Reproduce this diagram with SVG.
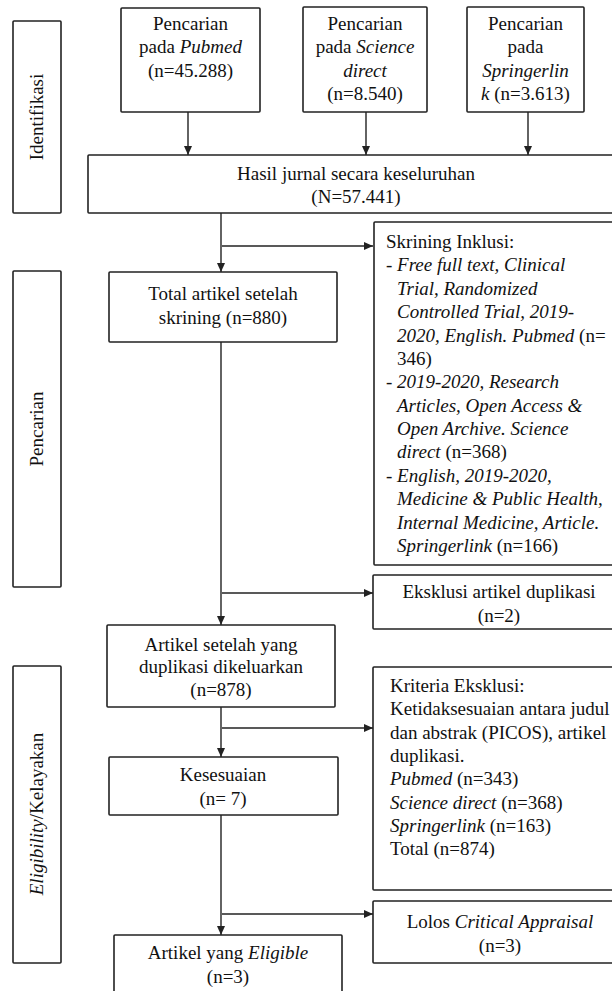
<svg xmlns="http://www.w3.org/2000/svg" width="612" height="991" viewBox="0 0 612 991">
<defs>
<style>
.box{fill:#fff;stroke:#222;stroke-width:1.6}
.t{font-family:"Liberation Serif","Times New Roman",serif;font-size:19px;fill:#111}
.c{text-anchor:middle}
.i{font-style:italic}
.ln{stroke:#222;stroke-width:1.4;fill:none}
</style>
<marker id="ah" markerWidth="9" markerHeight="8" refX="9" refY="4" orient="auto" markerUnits="userSpaceOnUse">
<path d="M0,0 L9,4 L0,8 Z" fill="#222"/>
</marker>
</defs>
<rect width="612" height="991" fill="#fff"/>

<g id="side-identifikasi">
<rect class="box" x="13" y="21" width="48" height="192" rx="1"/>
<text class="t c" x="43" y="117" transform="rotate(-90 43 117)">Identifikasi</text>
</g>
<g id="side-pencarian">
<rect class="box" x="13" y="271" width="48" height="316" rx="1"/>
<text class="t c" x="43" y="429" transform="rotate(-90 43 429)">Pencarian</text>
</g>
<g id="side-eligibility">
<rect class="box" x="13" y="666" width="48" height="297" rx="1"/>
<text class="t c" x="43" y="814" transform="rotate(-90 43 814)"><tspan class="i">Eligibility</tspan>/Kelayakan</text>
</g>

<g id="connectors">
<line class="ln" x1="188" y1="112" x2="188" y2="155" marker-end="url(#ah)"/>
<line class="ln" x1="366" y1="112" x2="366" y2="155" marker-end="url(#ah)"/>
<line class="ln" x1="528" y1="112" x2="528" y2="155" marker-end="url(#ah)"/>
<line class="ln" x1="221" y1="213" x2="221" y2="272" marker-end="url(#ah)"/>
<line class="ln" x1="222" y1="246" x2="373" y2="246" marker-end="url(#ah)"/>
<line class="ln" x1="221" y1="342" x2="221" y2="625" marker-end="url(#ah)"/>
<line class="ln" x1="222" y1="593" x2="373" y2="593" marker-end="url(#ah)"/>
<line class="ln" x1="221" y1="707" x2="221" y2="757" marker-end="url(#ah)"/>
<line class="ln" x1="222" y1="728" x2="373" y2="728" marker-end="url(#ah)"/>
<line class="ln" x1="221" y1="815" x2="221" y2="935" marker-end="url(#ah)"/>
<line class="ln" x1="222" y1="914" x2="373" y2="914" marker-end="url(#ah)"/>
</g>

<g id="pubmed">
<rect class="box" x="121" y="8" width="139" height="104" rx="1"/>
<text class="t c" x="190.5" y="30">Pencarian</text>
<text class="t c" x="190.5" y="53.3">pada <tspan class="i">Pubmed</tspan></text>
<text class="t c" x="190.5" y="76.6">(n=45.288)</text>
</g>
<g id="sciencedirect">
<rect class="box" x="303" y="7" width="124" height="105" rx="1"/>
<text class="t c" x="365" y="30">Pencarian</text>
<text class="t c" x="365" y="53.3">pada <tspan class="i">Science</tspan></text>
<text class="t c i" x="365" y="76.6">direct</text>
<text class="t c" x="365" y="100">(n=8.540)</text>
</g>
<g id="springerlink">
<rect class="box" x="467" y="7" width="117" height="105" rx="1"/>
<text class="t c" x="525.5" y="30">Pencarian</text>
<text class="t c" x="525.5" y="53.3">pada</text>
<text class="t c i" x="525.5" y="76.6">Springerlin</text>
<text class="t c" x="525.5" y="100"><tspan class="i">k</tspan> (n=3.613)</text>
</g>

<g id="hasil">
<rect class="box" x="88" y="155" width="540" height="58" rx="1"/>
<text class="t c" x="356" y="180">Hasil jurnal secara keseluruhan</text>
<text class="t c" x="356" y="203">(N=57.441)</text>
</g>

<g id="skrining">
<rect class="box" x="374" y="222" width="254" height="343" rx="1"/>
<text class="t" x="386" y="248">Skrining Inklusi:</text>
<text class="t" x="386" y="271.4">- <tspan class="i">Free full text, Clinical</tspan></text>
<text class="t i" x="397" y="294.8">Trial, Randomized</text>
<text class="t i" x="397" y="318.1">Controlled Trial, 2019-</text>
<text class="t" x="397" y="341.5"><tspan class="i">2020, English. Pubmed</tspan> (n=</text>
<text class="t" x="397" y="364.9">346)</text>
<text class="t" x="386" y="388.3">- <tspan class="i">2019-2020, Research</tspan></text>
<text class="t i" x="397" y="411.7">Articles, Open Access &amp;</text>
<text class="t i" x="397" y="435">Open Archive. Science</text>
<text class="t" x="397" y="458.4"><tspan class="i">direct</tspan> (n=368)</text>
<text class="t" x="386" y="481.8">- <tspan class="i">English, 2019-2020,</tspan></text>
<text class="t i" x="397" y="505.2">Medicine &amp; Public Health,</text>
<text class="t i" x="397" y="528.6">Internal Medicine, Article.</text>
<text class="t" x="397" y="552"><tspan class="i">Springerlink</tspan> (n=166)</text>
</g>

<g id="total">
<rect class="box" x="109" y="272" width="228" height="70" rx="1"/>
<text class="t c" x="223" y="300">Total artikel setelah</text>
<text class="t c" x="223" y="324">skrining (n=880)</text>
</g>

<g id="eksklusi">
<rect class="box" x="373" y="575" width="255" height="54" rx="1"/>
<text class="t c" x="499" y="598">Eksklusi artikel duplikasi</text>
<text class="t c" x="499" y="622">(n=2)</text>
</g>

<g id="artikel-setelah">
<rect class="box" x="107" y="625" width="228" height="82" rx="1"/>
<text class="t c" x="221" y="651">Artikel setelah yang</text>
<text class="t c" x="221" y="673">duplikasi dikeluarkan</text>
<text class="t c" x="221" y="696">(n=878)</text>
</g>

<g id="kriteria">
<rect class="box" x="373" y="667" width="255" height="223" rx="1"/>
<text class="t" x="390" y="692">Kriteria Eksklusi:</text>
<text class="t" x="390" y="715.3">Ketidaksesuaian antara judul</text>
<text class="t" x="390" y="738.6">dan abstrak (PICOS), artikel</text>
<text class="t" x="390" y="761.9">duplikasi.</text>
<text class="t" x="390" y="785.2"><tspan class="i">Pubmed</tspan> (n=343)</text>
<text class="t" x="390" y="808.5"><tspan class="i">Science direct</tspan> (n=368)</text>
<text class="t" x="390" y="831.8"><tspan class="i">Springerlink</tspan> (n=163)</text>
<text class="t" x="390" y="855.1">Total (n=874)</text>
</g>

<g id="kesesuaian">
<rect class="box" x="109" y="757" width="229" height="58" rx="1"/>
<text class="t c" x="223" y="781">Kesesuaian</text>
<text class="t c" x="223" y="805">(n= 7)</text>
</g>

<g id="lolos">
<rect class="box" x="373" y="901" width="255" height="62" rx="1"/>
<text class="t c" x="500" y="928">Lolos <tspan class="i">Critical Appraisal</tspan></text>
<text class="t c" x="500" y="952">(n=3)</text>
</g>

<g id="eligible">
<rect class="box" x="114" y="935" width="228" height="70" rx="1"/>
<text class="t c" x="228" y="959">Artikel yang <tspan class="i">Eligible</tspan></text>
<text class="t c" x="228" y="983">(n=3)</text>
</g>
</svg>
